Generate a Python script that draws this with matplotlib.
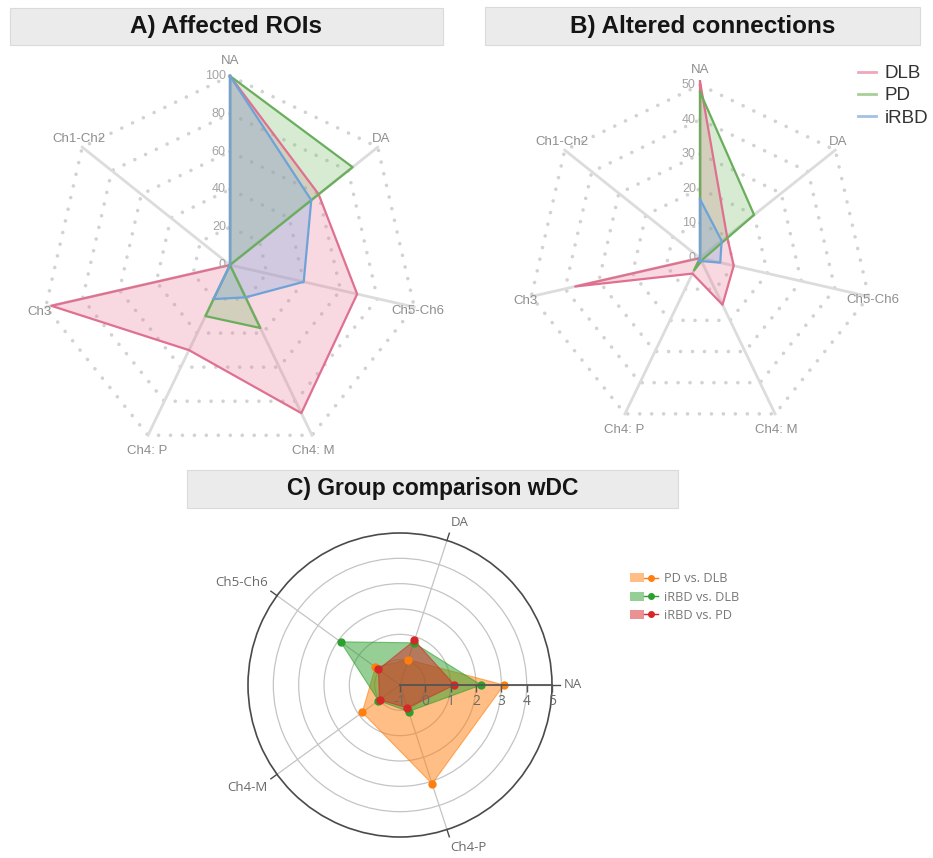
import numpy as np
import matplotlib
matplotlib.use("Agg")
import matplotlib.pyplot as plt
from matplotlib.patches import Rectangle, Patch
from matplotlib.lines import Line2D
from matplotlib.legend_handler import HandlerTuple

plt.rcParams['font.family'] = ['Liberation Sans', 'DejaVu Sans']

# ---- data: radar panels A and B ----
radar_axes = ["NA", "DA", "Ch5-Ch6", "Ch4: M", "Ch4: P", "Ch3", "Ch1-Ch2"]
groups = ["DLB", "PD", "iRBD"]

roi_dlb = [100, 60, 69, 87, 50, 97, 0]
roi_pd = [100, 83, 0, 37, 30, 0, 0]
roi_irbd = [100, 55, 40, 19, 20, 0, 0]
roi_ticks = [0, 20, 40, 60, 80, 100]

conn_dlb = [51, 10, 10, 15, 5, 37, 0]
conn_pd = [48, 20, 1, 1, 4, 0, 0]
conn_irbd = [17, 8, 6, 1, 1, 0, 0]
conn_ticks = [0, 10, 20, 30, 40, 50]

# ---- data: panel C ----
wdc_axes = ["NA", "DA", "Ch5-Ch6", "Ch4-M", "Ch4-P"]
wdc_series = ["PD vs. DLB", "iRBD vs. DLB", "iRBD vs. PD"]
pd_vs_dlb = [3.1, 0.05, 0.2, 0.84, 3.1]
irbd_vs_dlb = [2.2, 0.75, 1.9, 0.05, 0.1]
irbd_vs_pd = [1.15, 0.85, 0.05, 0.0, -0.05]
wdc_ticks = [-1, 0, 1, 2, 3, 4, 5]

W, H = 933, 858
fig = plt.figure(figsize=(W / 100, H / 100), dpi=100)
fig.patch.set_facecolor('white')

group_edge = ['#e0708f', '#6aae5c', '#6ea3d8']
group_fill = ['#e8809c', '#7dbb6c', '#7aa8dc']
group_legend = ['#f0a6bb', '#a7cf97', '#a2c2e4']


def px_axes(cx, cy, rx, ry, **kw):
    return fig.add_axes([(cx - rx) / W, (H - cy - ry) / H, 2 * rx / W, 2 * ry / H], **kw)


def title_box(x0, x1, y0, y1, text, size):
    fig.add_artist(Rectangle((x0 / W, 1 - y1 / H), (x1 - x0) / W, (y1 - y0) / H,
                             transform=fig.transFigure, facecolor='#ebebeb',
                             edgecolor='#dadada', lw=0.8))
    fig.text((x0 + x1) / 2 / W, 1 - (y0 + y1) / 2 / H, text, ha='center', va='center',
             fontsize=size, fontweight='bold', color='#151515')


label_offsets = [(0, 15), (3, 8), (4, -4), (1, -16), (-1, -16), (-6, -5), (-3, 8)]


def radar(ax, series, ticks):
    n = len(radar_axes)
    rmax = ticks[-1]
    theta = np.linspace(0, 2 * np.pi, n, endpoint=False)
    th_closed = np.append(theta, theta[0])
    ax.set_theta_zero_location('N')
    ax.set_theta_direction(-1)
    ax.set_ylim(0, rmax)
    ax.axis('off')
    for t in ticks[1:]:
        ax.plot(th_closed, [t] * (n + 1), ls=(0, (0.01, 3.3)), lw=2.6,
                color='#d2d2d2', dash_capstyle='round', zorder=1, clip_on=False)
    for th in theta:
        ax.plot([th, th], [0, rmax], color='#dcdcdc', lw=2, zorder=1, clip_on=False)
    for vals, ec, fc in zip(series, group_edge, group_fill):
        v = np.append(vals, vals[0])
        ax.fill(th_closed, v, color=fc, alpha=0.3, zorder=2, lw=0, clip_on=False)
        ax.plot(th_closed, v, color=ec, lw=1.6, zorder=3, clip_on=False)
    for t in ticks:
        ax.annotate(str(t), xy=(0, t), xytext=(-3, 0), textcoords='offset points',
                    ha='right', va='center', fontsize=9, color='#a3a3a3',
                    annotation_clip=False, zorder=4)
    for th, lab, (ox, oy) in zip(theta, radar_axes, label_offsets):
        ax.annotate(lab, xy=(th, rmax), xytext=(ox * 0.72, oy * 0.72),
                    textcoords='offset points', ha='center', va='center',
                    fontsize=9.5, color='#8e8e8e', annotation_clip=False)


# Panel A
title_box(10, 443, 8, 45, "A) Affected ROIs", 17.5)
axA = px_axes(230, 265, 189, 189, projection='polar')
radar(axA, [roi_dlb, roi_pd, roi_irbd], roi_ticks)

# Panel B
title_box(485, 920, 7, 45, "B) Altered connections", 17.5)
axB = px_axes(700, 258, 173, 173, projection='polar')
radar(axB, [conn_dlb, conn_pd, conn_irbd], conn_ticks)

leg_handles = [Line2D([], [], color=c, lw=2) for c in group_legend]
fig.legend(leg_handles, groups, loc='upper left', bbox_to_anchor=(845 / W, 1 - 52 / H),
           frameon=False, fontsize=13.5, handlelength=0.95, handletextpad=0.45,
           labelspacing=0.27, borderpad=0.2, labelcolor='#333333')

# Panel C
title_box(187, 678, 470, 508, "C) Group comparison wDC", 16.5)
axC = px_axes(400, 685, 152, 152, projection='polar')
axC.set_ylim(wdc_ticks[0], wdc_ticks[-1])
theta_c = np.linspace(0, 2 * np.pi, len(wdc_axes), endpoint=False)
axC.set_xticks(theta_c)
axC.set_xticklabels([])
axC.set_yticks(wdc_ticks[1:-1])
axC.set_yticklabels([])
axC.grid(True, color='#c4c4c4', lw=0.9)
axC.spines['polar'].set_color('#4a4a4a')
axC.spines['polar'].set_linewidth(1.2)
axC.tick_params(length=0)

c_colors = ['#ff7f0e', '#2ca02c', '#d62728']
thc_closed = np.append(theta_c, theta_c[0])
for vals, col in zip([pd_vs_dlb, irbd_vs_dlb, irbd_vs_pd], c_colors):
    v = np.append(vals, vals[0])
    axC.fill(thc_closed, v, color=col, alpha=0.5, lw=0, zorder=3)
    axC.plot(thc_closed, v, color=col, lw=0.8, alpha=0.6, zorder=3)
    axC.plot(theta_c, vals, ls='none', marker='o', ms=5, color=col, zorder=4)

# radial axis along NA with outside ticks
axC.plot([0, 0], [wdc_ticks[0], wdc_ticks[-1]], color='#555555', lw=1.3, zorder=5, clip_on=False)
axC.plot(np.zeros(len(wdc_ticks)), wdc_ticks, ls='none', marker=3, ms=5,
         mew=1, color='#555555', zorder=5, clip_on=False)
for t in wdc_ticks:
    axC.annotate(str(t), xy=(0, t), xytext=(0, -12), textcoords='offset points',
                 ha='center', va='center', fontsize=10, color='#6a6a6a',
                 family=['Open Sans', 'DejaVu Sans'], annotation_clip=False, zorder=6)

# angular ticks and category labels
rtop = wdc_ticks[-1]
for th, lab in zip(theta_c, wdc_axes):
    axC.plot([th, th], [rtop, rtop + 0.3], color='#4a4a4a', lw=1, clip_on=False)
    c, s = np.cos(th), np.sin(th)
    ha = 'left' if c > 0.2 else ('right' if c < -0.2 else 'center')
    va = 'bottom' if s > 0.2 else ('top' if s < -0.2 else 'center')
    axC.annotate(lab, xy=(th, rtop + 0.3), xytext=(3 * c, 3 * s),
                 textcoords='offset points', ha=ha, va=va, fontsize=9.5,
                 color='#6a6a6a', family=['Open Sans', 'DejaVu Sans'],
                 annotation_clip=False)

c_handles = [(Patch(facecolor=col, alpha=0.5, lw=0),
              Line2D([], [], color=col, lw=1, marker='o', ms=4)) for col in c_colors]
fig.legend(c_handles, wdc_series, loc='upper left', bbox_to_anchor=(620 / W, 1 - 562 / H),
           frameon=False, handlelength=2.2, handletextpad=0.45,
           labelspacing=0.42, borderpad=0.3, labelcolor='#777777',
           handler_map={tuple: HandlerTuple(ndivide=None, pad=0)},
           prop={'family': ['Open Sans', 'DejaVu Sans'], 'size': 9.2})

fig.savefig('out.png', dpi=100)
